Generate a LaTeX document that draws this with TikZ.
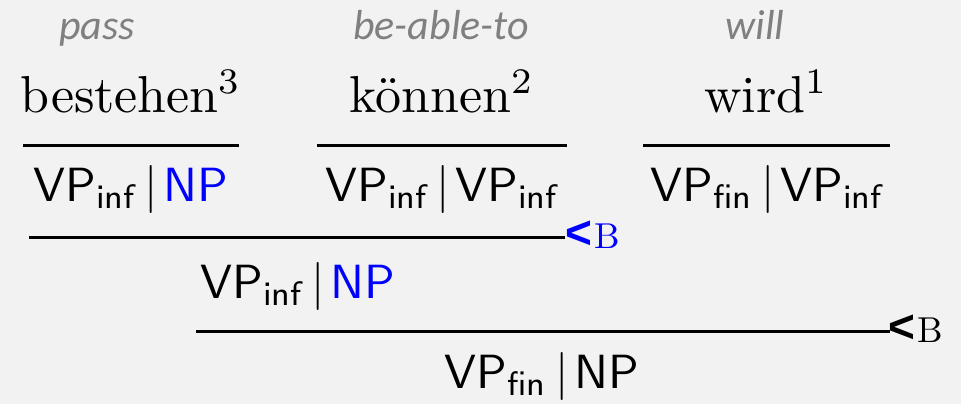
\documentclass[tikz,border=0pt]{standalone}
\usepackage{fontspec}
\newfontfamily\glossfont{Carlito}
\newfontfamily\rmten{lmroman10-regular.otf}
\newfontfamily\rmseven{lmroman7-regular.otf}
\newfontfamily\sften{lmsans10-regular.otf}
\newfontfamily\sfeight{lmsans8-regular.otf}
\newfontfamily\markfont{Liberation Sans}
\definecolor{bg}{HTML}{F2F2F2}
\definecolor{glossgray}{HTML}{808080}
\definecolor{hiblue}{RGB}{0,0,255}

% word with a raised index, e.g. \wordidx{wird}{1}
\newcommand{\wordidx}[2]{#1\raisebox{19pt}{\rmseven\fontsize{36}{40}\selectfont #2}}
% category with a subscript, e.g. \cat{VP}{inf}
\newcommand{\cat}[2]{#1\raisebox{-7pt}{\sfeight\fontsize{34}{38}\selectfont #2}}
% slash between result and argument
\newcommand{\slashbar}{\hspace{10pt}{\rmten|}\hspace{6pt}}
% backward composition marker
\newcommand{\bcomp}{{\markfont\bfseries\fontsize{46}{46}\selectfont <}\hspace{2pt}{\rmten\fontsize{36}{40}\selectfont B}}

\begin{document}
\begin{tikzpicture}[x=1pt,y=-1pt,
  word/.style={anchor=base, inner sep=0pt, font=\rmten\fontsize{52}{60}\selectfont},
  gloss/.style={anchor=base, inner sep=0pt, text=glossgray,
    font=\glossfont\itshape\fontsize{42}{50}\selectfont},
  catnode/.style={anchor=base, inner sep=0pt, font=\sften\fontsize{48}{58}\selectfont},
  rulestroke/.style={line width=3pt},
  combnode/.style={anchor=base west, inner sep=0pt}]

\fill[bg] (0,0) rectangle (961,404);
\useasboundingbox (0,0) rectangle (961,404);

% glosses
\node[gloss] (g1) at (97,40) {pass};
\node[gloss] (g2) at (441,40) {be-able-to};
\node[gloss] (g3) at (755,40) {will};

% words
\node[word] (w1) at (130,112) {\wordidx{bestehen}{3}};
\node[word] (w2) at (441,112) {\wordidx{können}{2}};
\node[word] (w3) at (765,112) {\wordidx{wird}{1}};

% lexical rules
\coordinate (r1l) at (23,145);  \coordinate (r1r) at (239,145);
\coordinate (r2l) at (317,145); \coordinate (r2r) at (567,145);
\coordinate (r3l) at (643,145); \coordinate (r3r) at (890,145);
\draw[rulestroke] (r1l) -- (r1r);
\draw[rulestroke] (r2l) -- (r2r);
\draw[rulestroke] (r3l) -- (r3r);

% lexical categories
\node[catnode] (c1) at (131,201) {\cat{VP}{inf}\slashbar\textcolor{hiblue}{NP}};
\node[catnode] (c2) at (441,201) {\cat{VP}{inf}\slashbar\cat{VP}{inf}};
\node[catnode] (c3) at (766,201) {\cat{VP}{fin}\slashbar\cat{VP}{inf}};

% first composition
\coordinate (s1l) at (29,237); \coordinate (s1r) at (565,237);
\draw[rulestroke] (s1l) -- (s1r);
\node[combnode, text=hiblue] (b1) at (565,248) {\bcomp};
\node[catnode] (c12) at (298,298) {\cat{VP}{inf}\slashbar\textcolor{hiblue}{NP}};

% second composition
\coordinate (s2l) at (196,331); \coordinate (s2r) at (890,331);
\draw[rulestroke] (s2l) -- (s2r);
\node[combnode] (b2) at (888,342) {\bcomp};
\node[catnode] (c123) at (542,388) {\cat{VP}{fin}\slashbar NP};
\end{tikzpicture}
\end{document}
